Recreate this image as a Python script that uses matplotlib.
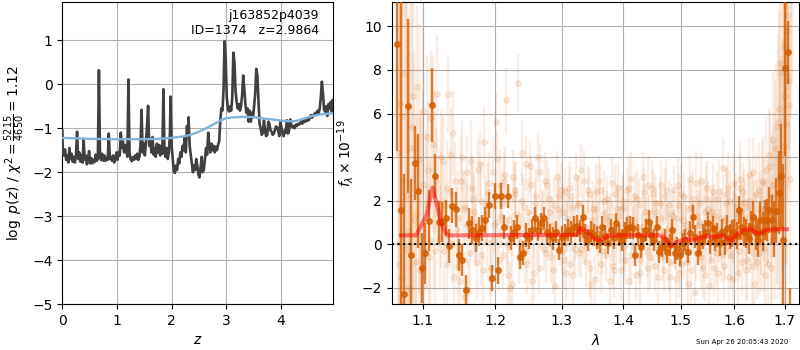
import numpy as np
import matplotlib
matplotlib.use("Agg")
import matplotlib.pyplot as plt
from matplotlib.ticker import NullLocator

# ---------------- redshift fit: log p(z) ----------------
Z_GRID = [
    0.00, 0.01, 0.03, 0.05, 0.07, 0.09, 0.11, 0.13, 0.15, 0.17, 0.19, 0.21, 0.23, 0.25, 0.27, 0.29,
    0.31, 0.33, 0.35, 0.37, 0.39, 0.41, 0.43, 0.45, 0.47, 0.49, 0.51, 0.53, 0.55, 0.57, 0.59, 0.61,
    0.63, 0.65, 0.67, 0.69, 0.71, 0.73, 0.75, 0.77, 0.79, 0.81, 0.83, 0.85, 0.87, 0.89, 0.91, 0.93,
    0.95, 0.97, 0.99, 1.01, 1.03, 1.05, 1.07, 1.09, 1.11, 1.13, 1.15, 1.17, 1.19, 1.21, 1.23, 1.25,
    1.27, 1.29, 1.31, 1.33, 1.35, 1.37, 1.39, 1.41, 1.43, 1.45, 1.47, 1.49, 1.51, 1.53, 1.55, 1.57,
    1.59, 1.61, 1.63, 1.65, 1.67, 1.69, 1.71, 1.73, 1.75, 1.77, 1.79, 1.81, 1.83, 1.85, 1.87, 1.89,
    1.91, 1.93, 1.95, 1.97, 1.98, 2.00, 2.02, 2.04, 2.06, 2.08, 2.10, 2.12, 2.14, 2.16, 2.18, 2.20,
    2.22, 2.24, 2.26, 2.28, 2.30, 2.31, 2.33, 2.35, 2.37, 2.39, 2.41, 2.43, 2.45, 2.47, 2.49, 2.51,
    2.53, 2.55, 2.57, 2.59, 2.61, 2.63, 2.65, 2.67, 2.69, 2.71, 2.73, 2.75, 2.77, 2.79, 2.81, 2.83,
    2.85, 2.87, 2.89, 2.91, 2.93, 2.95, 2.97, 2.99, 3.01, 3.03, 3.05, 3.07, 3.09, 3.11, 3.13, 3.15,
    3.17, 3.19, 3.21, 3.23, 3.25, 3.27, 3.29, 3.31, 3.33, 3.35, 3.37, 3.39, 3.41, 3.43, 3.45, 3.47,
    3.49, 3.51, 3.53, 3.55, 3.57, 3.59, 3.61, 3.63, 3.65, 3.67, 3.69, 3.71, 3.73, 3.75, 3.77, 3.79,
    3.81, 3.83, 3.85, 3.87, 3.89, 3.91, 3.93, 3.95, 3.97, 3.99, 4.01, 4.03, 4.05, 4.07, 4.09, 4.11,
    4.13, 4.15, 4.17, 4.19, 4.21, 4.23, 4.25, 4.27, 4.29, 4.31, 4.33, 4.35, 4.37, 4.39, 4.41, 4.43,
    4.45, 4.47, 4.49, 4.51, 4.53, 4.55, 4.57, 4.59, 4.61, 4.63, 4.65, 4.67, 4.69, 4.71, 4.73, 4.75,
    4.77, 4.79, 4.81, 4.83, 4.85, 4.87, 4.89, 4.91, 4.93, 4.95, 4.96,
]
LOG_PZ = [
    -1.05, -1.55, -1.62, -1.48, -1.72, -1.62, -1.78, -1.45, -1.70, -1.58, -1.76, -1.65, -1.78, -1.60, -1.08, -1.70,
    -1.55, -1.76, -1.62, -1.78, -1.25, -1.72, -1.62, -1.82, -1.70, -1.52, -1.80, -1.68, -1.80, -1.72, -1.77, -1.60,
    -1.74, -1.70, 0.32, -1.65, -1.72, -1.58, -1.74, -1.62, -1.74, -1.68, -1.72, -1.12, -1.70, -1.65, -1.74, -1.62,
    -1.78, -1.70, -1.55, -1.72, -1.55, -1.62, -1.10, -1.45, -1.30, -1.55, -1.38, -1.50, -1.65, 0.11, -1.55, -1.70,
    -1.75, -1.66, -1.72, -1.62, -1.70, -1.58, -1.72, -1.65, -1.40, -0.58, -1.55, -1.35, -1.62, -1.32, -0.95, -0.49,
    -1.40, -1.25, -1.55, -1.20, -1.60, -1.45, -1.65, -1.35, -1.55, -1.38, -1.62, -1.40, -1.58, -0.11, -1.55, -1.65,
    -1.45, -1.70, -1.55, -1.10, -0.28, -1.40, -1.70, -1.98, -2.02, -1.85, -1.95, -1.70, -1.80, -1.55, -1.65, -1.40,
    -1.50, -1.20, -1.55, -0.95, -1.10, -0.75, -1.40, -1.60, -1.80, -2.00, -1.85, -1.95, -1.70, -1.85, -2.05, -2.12,
    -1.90, -1.65, -2.00, -1.95, -1.70, -1.45, -1.60, -1.10, -1.40, -1.55, -1.35, -1.50, -1.40, -1.55, -1.42, -1.50,
    -1.38, -1.30, -0.85, -0.55, -0.60, -0.15, 0.98, 0.55, -0.30, -0.55, -0.62, -0.50, -0.60, -0.30, 0.72, 0.50,
    -0.15, -0.40, -0.55, -0.45, -0.60, -0.50, -0.25, 0.20, -0.10, -0.45, -0.65, -0.55, -0.85, -0.60, -0.85, -0.65,
    -0.75, -0.50, -0.20, 0.35, 0.20, -0.40, -0.90, -1.00, -1.15, -1.10, -0.82, -1.05, -1.18, -1.15, -0.85, -0.90,
    -1.05, -1.08, -1.15, -1.12, -1.05, -0.96, -0.98, -1.05, -1.18, -0.85, -1.00, -1.12, -1.18, -1.05, -1.10, -0.82,
    -1.12, -1.05, -0.80, -0.92, -0.98, -0.95, -1.00, -0.92, -0.95, -0.90, -0.92, -0.88, -0.85, -0.90, -0.82, -0.86,
    -0.80, -0.84, -0.78, -0.82, -0.75, -0.70, -0.76, -0.72, -0.68, -0.65, -0.70, -0.60, -0.66, -0.55, -0.30, 0.06,
    -0.20, -0.58, -0.62, -0.50, -0.72, -0.45, -0.55, -0.40, -0.62, -0.35, -0.45,
]
Z_SMOOTH = [0.0, 0.5, 1.0, 1.5, 1.8, 2.0, 2.2, 2.35, 2.5, 2.65, 2.8, 2.9, 3.0, 3.15, 3.35,
            3.5, 3.7, 3.9, 4.1, 4.25, 4.4, 4.55, 4.7, 4.85, 4.96]
CHI2_SMOOTH = [-1.22, -1.24, -1.25, -1.25, -1.24, -1.22, -1.19, -1.15, -1.08, -0.99, -0.89, -0.82,
               -0.77, -0.75, -0.74, -0.75, -0.78, -0.81, -0.84, -0.84, -0.79, -0.73, -0.69, -0.67, -0.66]

# ---------------- G141 spectrum ----------------
WAVE_START = 1.0665   # micron, first pixel of the combined spectrum
WAVE_STEP = 0.0046    # micron per pixel

FLUX = [
    9.17, 1.57, -2.28, 6.35, -0.49, 3.71, 2.45, -1.10, -0.41, 1.07,
    6.38, 3.13, 1.00, 1.02, 1.22, -0.08, 1.77, 1.60, -0.49, -0.72,
    -2.10, 0.96, 0.65, 0.30, 0.58, 0.75, 1.11, 1.82, -1.56, 2.21,
    -1.20, 2.20, 0.81, 2.20, 0.27, 0.58, 0.81, -0.57, -0.41, 0.43,
    0.27, 0.66, 1.19, 0.66, 0.96, 1.19, 0.58, 0.43, 0.27, 0.58,
    -0.26, 0.35, 0.43, 0.66, 0.58, 0.81, 0.84, 0.60, 1.27, 0.43,
    0.20, 0.58, 0.43, 0.30, 0.10, 0.81, 0.40, 0.04, 0.66, 0.30,
    0.96, 0.43, 0.20, 0.55, 0.73, 0.78, 0.73, -0.49, 0.43, -0.11,
    0.27, 0.66, 1.04, 0.43, 0.20, 0.81, -0.34, -0.11, 0.20, -0.34,
    -0.05, 0.66, -0.41, -0.18, -0.49, 0.05, 0.20, -0.34, 0.53, 1.24,
    0.35, -0.41, 0.10, 0.35, 0.58, 0.96, 0.12, 0.73, 0.27, 0.43,
    0.05, 0.58, 0.12, 0.73, 0.35, 0.50, 0.58, 0.40, 1.57, 0.81,
    0.58, 0.50, 0.27, 0.80, 1.24, 0.50, 0.20, 1.11, 0.58, 1.11,
    1.11, 1.57, 1.11, 0.70, 1.54, 2.37, 3.13, 0.20, 8.07, 8.80,
    -4.00,
]
FLUX_ERR = [
    4.90, 10.0, 5.50, 4.00, 3.50, 1.70, 2.60, 1.60, 1.40, 1.40,
    1.70, 1.00, 1.00, 0.90, 0.80, 0.80, 0.80, 0.80, 0.75, 0.75,
    0.70, 0.70, 0.65, 0.65, 0.65, 0.60, 0.60, 0.60, 0.60, 0.60,
    0.60, 0.60, 0.55, 0.55, 0.55, 0.55, 0.55, 0.55, 0.55, 0.55,
    0.50, 0.48, 0.52, 0.50, 0.47, 0.53, 0.50, 0.49, 0.51, 0.50,
    0.48, 0.50, 0.52, 0.49, 0.50, 0.47, 0.51, 0.50, 0.53, 0.49,
    0.50, 0.48, 0.50, 0.52, 0.49, 0.51, 0.50, 0.47, 0.50, 0.52,
    0.49, 0.50, 0.51, 0.48, 0.50, 0.52, 0.50, 0.49, 0.51, 0.50,
    0.48, 0.50, 0.53, 0.50, 0.49, 0.51, 0.50, 0.48, 0.52, 0.50,
    0.51, 0.50, 0.49, 0.52, 0.50, 0.48, 0.51, 0.50, 0.53, 0.55,
    0.54, 0.55, 0.53, 0.56, 0.55, 0.54, 0.56, 0.55, 0.57, 0.56,
    0.58, 0.57, 0.59, 0.60, 0.58, 0.61, 0.60, 0.62, 0.64, 0.63,
    0.65, 0.68, 0.70, 0.72, 0.75, 0.78, 0.80, 0.84, 0.88, 0.92,
    0.98, 1.05, 1.15, 1.30, 1.50, 1.90, 2.40, 3.50, 4.00, 1.45,
    2.00,
]

# individual beam extractions (same pixel scale, sub-pixel offsets)
BEAM_START = [1.0677, 1.0689, 1.0700]
BEAM_ERR_SCALE = [2.4, 2.7, 2.2]
BEAM_A = [
    4.2, -1.5, 7.8, 0.6, 5.4, -0.8, 3.9, 6.1, 1.8, -0.6, 4.6, 2.9, 0.3,
    3.8, -0.9, 2.4, 5.1, 0.7, -1.7, 1.6, 3.3, -0.4, 2.1, 0.9, 3.7, -1.2, 1.4, 2.8, 0.2, 5.6, -0.7,
    1.9, 3.2, -1.4, 0.8, 2.5, 7.4, 0.1, 1.7, -0.9, 3.6, 0.5, 2.2, -1.1, 1.3, 2.9, 0.4, -0.6, 1.8, 3.1, 0.2,
    1.5, -1.3, 2.6, 0.9, -0.2, 1.9, 3.4, 0.6, -0.8, 2.3, 1.1, -1.6, 0.7, 2.5, 1.4, -0.5, 0.9, 2.8, -1.2, 1.6,
    0.3, 2.0, -0.7, 1.2, 3.0, 0.5, -1.4, 1.8, 0.2, 2.4, -0.3, 1.0, 2.6, -1.0, 0.8, 1.9, -0.6, 2.2, 0.4, -1.5,
    1.3, 0.0, 2.7, -0.9, 1.1, 0.6, -1.8, 1.7, 2.1, -0.4, 0.9, 2.9, -1.1, 0.3, 1.6, -0.7, 2.4, 0.8, -1.3, 1.2,
    3.5, -0.2, 0.7, 2.0, -1.6, 1.4, 0.1, 2.6, -0.8, 1.9, 0.5, 3.2, -1.0, 1.1, 2.3, -0.4, 0.6, 2.8, -1.4, 1.5,
    3.6, 0.2, 4.4, 1.8, 6.2, 2.9, 9.1, 5.5, 10.5, 3.0,
]
BEAM_B = [
    -0.9, 5.9, 2.2, -2.0, 6.8, 1.4, -1.2, 2.7, 4.9, 0.2, 2.5, 6.9, 1.6,
    -0.3, 2.6, 4.1, -1.5, 1.2, 2.9, -2.4, 0.9, 3.8, 1.5, -0.8, 2.0, 4.7, 0.1, -1.6, 3.3, 1.0, 2.7,
    -0.5, 6.6, 1.1, -1.8, 2.3, 0.6, 4.2, -0.3, 1.5, 2.7, -1.3, 0.4, 3.3, 1.2, -0.4, 2.1, 0.9, -1.9, 1.6, 2.5,
    -0.7, 1.2, 2.2, -1.4, 0.5, 1.8, -0.2, 2.9, 0.7, -1.1, 1.6, 2.4, 0.0, -0.9, 2.0, 1.1, -1.7, 0.6, 2.3, 1.3,
    -1.2, 1.7, 0.4, 2.6, -0.5, 1.0, 2.1, -1.3, 0.8, 1.5, 2.7, -0.6, 0.3, 1.9, -1.5, 1.2, 0.6, 2.5, -0.8, 1.4,
    0.2, -1.6, 1.8, 2.3, -0.3, 0.9, 1.6, -1.2, 0.4, 2.8, 1.0, -0.6, 1.5, 2.1, -1.9, 0.7, 1.3, -0.4, 2.4, 0.6,
    -1.0, 1.9, 2.6, -0.5, 0.8, 1.7, -1.3, 3.0, 0.5, 1.2, -0.7, 2.0, 1.4, -1.8, 0.9, 2.5, 0.1, 1.6, 3.4, -0.9,
    2.2, 4.8, 1.0, 5.6, 3.1, 7.9, 4.5, 9.8, 6.4, 11.2,
]
BEAM_C = [
    6.5, 2.9, -0.2, 4.4, 1.1, 7.2, 0.4, -1.9, 3.4, 5.8, -0.3, 1.9, 4.0,
    1.8, 6.9, 0.0, 2.9, -1.0, 4.0, 1.7, -2.2, 2.6, 0.4, 3.4, -0.5, 1.8, 2.4, -1.1, 0.9, 3.9, 1.3,
    2.9, 0.0, -2.0, 3.1, 1.4, -0.6, 2.0, 3.7, 0.3, -1.7, 1.9, 4.0, 0.8, -0.2, 2.7, 1.5, -1.2, 0.6, 2.2, -0.3,
    2.4, 0.8, -0.9, 1.7, 3.1, -0.4, 1.2, 0.3, 2.5, -1.8, 0.9, 1.6, 2.9, -0.3, 0.5, 2.1, 1.3, -1.0, 0.2, 2.6,
    1.6, -0.1, 2.5, -1.7, 0.9, 2.2, 0.6, -0.7, 3.1, 1.1, -1.1, 0.4, 2.3, 1.5, -0.2, 2.7, -1.2, 0.7, 1.8, 0.1,
    2.5, 1.2, -1.3, 0.5, 2.2, -0.8, 3.0, 0.8, -2.2, 1.3, 1.9, 0.0, -1.4, 2.6, 0.9, 1.5, -1.1, 2.1, 0.4, -0.5,
    1.1, 2.3, -1.5, 0.6, 2.8, 1.0, -0.3, 1.5, 2.4, -1.2, 1.7, 0.2, 3.3, 0.7, -0.8, 1.6, 2.9, -0.2, 1.0, 4.1,
    -1.1, 2.7, 5.4, 0.8, 8.3, 4.2, 6.8, 10.9, 7.5, 12.0,
]

# best-fit template at z=2.9864
MODEL_WAVE = [1.0717, 1.0912, 1.0974, 1.1053, 1.1132, 1.1185, 1.1250, 1.1326, 1.3236, 1.3300,
              1.3396, 1.3507, 1.3617, 1.3727, 1.3800, 1.4630, 1.4727, 1.4828, 1.4929, 1.5030,
              1.5128, 1.5233, 1.5338, 1.5473, 1.5608, 1.5787, 1.5935, 1.6045, 1.6189, 1.6340,
              1.6485, 1.6624, 1.6810, 1.7046]
MODEL_FLUX = [0.41, 0.41, 0.81, 1.35, 2.61, 1.88, 0.96, 0.41, 0.43, 0.76,
              0.58, 0.28, 0.17, 0.32, 0.41, 0.41, 0.28, -0.06, 0.10, 0.20,
              0.26, 0.17, 0.28, 0.38, 0.32, 0.41, 0.17, 0.43, 0.69, 0.66,
              0.47, 0.66, 0.69, 0.69]

WAVE_TICKS = [1.1, 1.2, 1.3, 1.4, 1.5, 1.6, 1.7]
WAVE_TICK_LABELS = ["1.1", "1.2", "1.3", "1.4", "1.5", "1.6", "1.7"]

ROOT = "j163852p4039"
OBJ_ID = 1374
Z_BEST = 2.9864
STAMP = "Sun Apr 26 20:05:43 2020"

G141_COLOR = "#d55e00"

fig = plt.figure(figsize=(8, 3.5), dpi=100)
ax1 = fig.add_axes([0.0779, 0.1314, 0.3388, 0.8638])
ax2 = fig.add_axes([0.4896, 0.1314, 0.5095, 0.8638])

# left panel
ax1.plot(Z_GRID, LOG_PZ, color="0.25", lw=1.9, zorder=3)
ax1.plot(Z_SMOOTH, CHI2_SMOOTH, color="#80b4dc", lw=1.7, zorder=4)
ax1.set_xlim(0, 4.96)
ax1.set_ylim(-5, 1.88)
ax1.set_xticks([0, 1, 2, 3, 4])
ax1.set_yticks([-5, -4, -3, -2, -1, 0, 1])
ax1.grid(True)
ax1.set_xlabel(r"$z$")
ax1.set_ylabel(r"$\log\ p(z)$ / $\chi^2=\frac{5215}{4650}=1.12$")
ax1.text(0.947, 0.975, f"{ROOT}\nID={OBJ_ID}   z={Z_BEST:.4f}", ha="right", va="top",
         transform=ax1.transAxes, fontsize=9)

# right panel
for start, scale, beam in zip(BEAM_START, BEAM_ERR_SCALE, [BEAM_A, BEAM_B, BEAM_C]):
    bw = start + WAVE_STEP * np.arange(len(beam))
    be = scale * np.asarray(FLUX_ERR[:len(beam)])
    ax2.errorbar(bw, beam, be, marker="o", ms=4, linestyle="none", color=G141_COLOR,
                 alpha=0.11, elinewidth=1.7, zorder=2)

wave = WAVE_START + WAVE_STEP * np.arange(len(FLUX))
ax2.errorbar(wave, FLUX, FLUX_ERR, marker="o", ms=4, linestyle="none", color=G141_COLOR,
             alpha=0.8, elinewidth=1.7, zorder=3)
ax2.plot(MODEL_WAVE, MODEL_FLUX, color="r", alpha=0.5, lw=3, zorder=4)
ax2.axhline(0, color="k", ls=":", lw=1.5, zorder=5)

ax2.set_xscale("log")
ax2.set_xlim(1.0598, 1.730)
ax2.set_ylim(-2.74, 11.13)
ax2.set_xticks(WAVE_TICKS)
ax2.set_xticklabels(WAVE_TICK_LABELS)
ax2.xaxis.set_minor_locator(NullLocator())
ax2.set_yticks([-2, 0, 2, 4, 6, 8, 10])
ax2.grid(True)
ax2.set_xlabel(r"$\lambda$")
ax2.set_ylabel(r"$f_\lambda\times10^{-19}$")

fig.text(0.985, 0.015, STAMP, ha="right", va="bottom", fontsize=5)

fig.savefig("out.png", dpi=100)
